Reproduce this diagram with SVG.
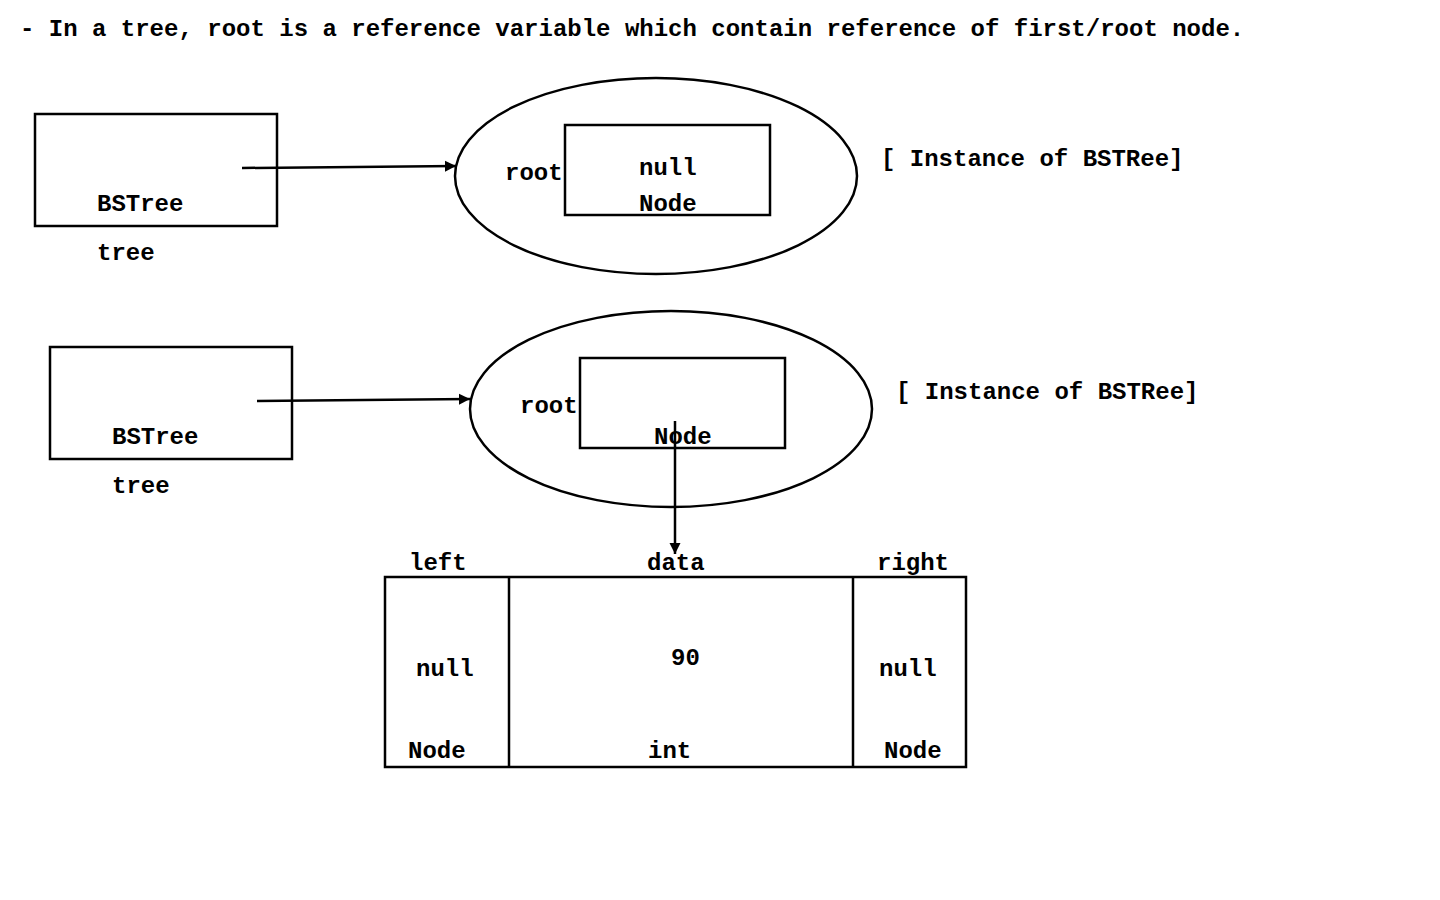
<svg xmlns="http://www.w3.org/2000/svg" width="1440" height="900" viewBox="0 0 1440 900">
<defs>
<style>
text{font-family:"Liberation Mono","Courier New",monospace;font-weight:bold;font-size:24px;fill:#000}
.s{fill:none;stroke:#000;stroke-width:2.5}
.c{fill:none;stroke:#000;stroke-width:2.5}
</style>
<marker id="ah" viewBox="0 0 10 10" refX="10" refY="5" markerWidth="4.5" markerHeight="4.5" orient="auto" markerUnits="strokeWidth">
<path d="M0,0 L10,5 L0,10 z" fill="#000"/>
</marker>
</defs>
<rect width="1440" height="900" fill="#fff"/>
<text x="20" y="36">- In a tree, root is a reference variable which contain reference of first/root node.</text>

<g id="tree1">
<rect class="s" x="35" y="114" width="242" height="112"/>
<text x="97" y="211">BSTree</text>
<text x="97" y="260">tree</text>
</g>
<g id="instance1">
<ellipse class="s" cx="656" cy="176" rx="201" ry="98"/>
<text x="505" y="180">root</text>
<rect class="s" x="565" y="125" width="205" height="90"/>
<text x="639" y="175">null</text>
<text x="639" y="211">Node</text>
<text x="881" y="166">[ Instance of BSTRee]</text>
</g>

<g id="tree2">
<rect class="s" x="50" y="347" width="242" height="112"/>
<text x="112" y="444">BSTree</text>
<text x="112" y="493">tree</text>
</g>
<g id="instance2">
<ellipse class="s" cx="671" cy="409" rx="201" ry="98"/>
<text x="520" y="413">root</text>
<rect class="s" x="580" y="358" width="205" height="90"/>
<text x="654" y="444">Node</text>
<text x="896" y="399">[ Instance of BSTRee]</text>
</g>

<g id="node">
<rect class="s" x="385" y="577" width="581" height="190"/>
<line class="s" x1="509" y1="577" x2="509" y2="767"/>
<line class="s" x1="853" y1="577" x2="853" y2="767"/>
<text x="409" y="570">left</text>
<text x="647" y="570">data</text>
<text x="877" y="570">right</text>
<text x="416" y="676">null</text>
<text x="671" y="665">90</text>
<text x="879" y="676">null</text>
<text x="408" y="758">Node</text>
<text x="648" y="758">int</text>
<text x="884" y="758">Node</text>
</g>

<g id="connectors">
<line class="c" x1="242" y1="168" x2="456" y2="166" marker-end="url(#ah)"/>
<line class="c" x1="257" y1="401" x2="470" y2="399" marker-end="url(#ah)"/>
<line class="c" x1="675" y1="421" x2="675" y2="554" marker-end="url(#ah)"/>
</g>
</svg>
